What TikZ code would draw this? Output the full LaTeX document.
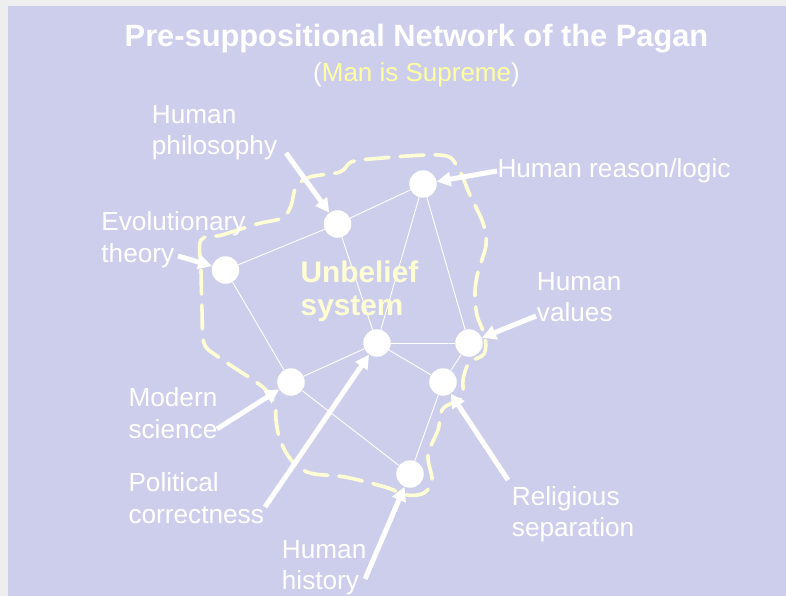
\documentclass[tikz,border=0pt]{standalone}
\usepackage{fontspec}
\setmainfont{Liberation Sans}
\usetikzlibrary{arrows.meta}
\definecolor{bgl}{RGB}{205,206,236}
\definecolor{edgeg}{RGB}{238,238,238}
\definecolor{cream}{RGB}{255,255,212}
\definecolor{subyel}{RGB}{255,255,160}
\begin{document}
\begin{tikzpicture}[x=1pt,y=-1pt,
  dot/.style={circle,fill=white,draw=none,minimum size=27.5pt,inner sep=0pt},
  link/.style={white,line width=0.9pt},
  arr/.style={white,line width=5pt,-{Triangle[length=14pt,width=14pt]}},
  lbl/.style={anchor=base west,inner sep=0pt,text=white,font=\fontsize{26.2}{31.7}\selectfont},
  core/.style={anchor=base west,inner sep=0pt,text=cream,font=\fontsize{29.8}{33}\selectfont\bfseries},
  outline/.style={cream,line width=3.6pt,dash pattern=on 24pt off 11pt,line cap=round,line join=round}]
\useasboundingbox (0,0) rectangle (786,596);
\fill[edgeg] (0,0) rectangle (786,596);
\fill[bgl] (8,6) rectangle (786,596);

% titles
\node[anchor=base,inner sep=0pt,text=white,font=\fontsize{30.8}{36}\selectfont\bfseries] (title) at (416.5,47) {Pre-suppositional Network of the Pagan};
\node[anchor=base,inner sep=0pt,text=subyel,font=\fontsize{26}{31}\selectfont] (subtitle) at (416.5,81.5) {\textcolor{white}{(}Man is Supreme\textcolor{white}{)}};

% dashed outline
\draw[outline] plot[smooth cycle,tension=0.55] coordinates {
 (201,240) (222,235) (257,224) (282,218) (291,206) (296,187) (310,177) (340,172) (351,162) (370,159)
 (440,155) (457,166) (470,195) (483,223) (486,245) (478,272) (475,292) (477,315) (485,337)
 (484,354) (469,363) (463,380) (463,397) (452,403) (442,410) (438,430) (428,455) (432,480) (424,493)
 (407,495) (385,487) (345,477) (310,473) (292,461) (280,440) (276,420) (275,405) (266,390)
 (250,378) (217,356) (204,343) (202,310) (201,270)};

% network nodes
\node[dot] (phil) at (337.5,224) {};
\node[dot] (reason) at (423,184) {};
\node[dot] (evol) at (225.5,270) {};
\node[dot] (core) at (377,343) {};
\node[dot] (values) at (469,343) {};
\node[dot] (science) at (291,382) {};
\node[dot] (relig) at (443,382) {};
\node[dot] (hist) at (410,474) {};

% links
\foreach \a/\b in {evol/phil,phil/reason,phil/core,reason/core,reason/values,evol/science,science/core,core/values,core/relig,values/relig,science/hist,relig/hist}
  \draw[link] (\a) -- (\b);

% center text
\node[core] (ub1) at (300.5,282.3) {Unbelief};
\node[core] (ub2) at (300.5,315) {system};

% labels
\node[lbl] (lphil1) at (151.7,123.3) {Human};
\node[lbl] (lphil2) at (151.7,155) {philosophy};
\node[lbl] (lreason) at (497.3,177.3) {Human reason/logic};
\node[lbl] (levol1) at (101.2,230) {Evolutionary};
\node[lbl] (levol2) at (101.2,262) {theory};
\node[lbl] (lval1) at (536.7,290) {Human};
\node[lbl] (lval2) at (536.7,321.7) {values};
\node[lbl] (lsci1) at (128.3,406) {Modern};
\node[lbl] (lsci2) at (128.3,438) {science};
\node[lbl] (lpol1) at (128.3,491.7) {Political};
\node[lbl] (lpol2) at (128.3,523.3) {correctness};
\node[lbl] (lrel1) at (511.7,505) {Religious};
\node[lbl] (lrel2) at (511.7,536.7) {separation};
\node[lbl] (lhis1) at (281.7,558.3) {Human};
\node[lbl] (lhis2) at (281.7,589.5) {history};

% arrow free ends
\coordinate (aphil) at (286,153);
\coordinate (areason) at (497,171);
\coordinate (aevol) at (178,256);
\coordinate (aval) at (536,316);
\coordinate (asci) at (217,429);
\coordinate (apol) at (265,507);
\coordinate (arel) at (508,480);
\coordinate (ahis) at (365,579);

\draw[arr] (aphil) -- (phil);
\draw[arr] (areason) -- (reason);
\draw[arr] (aevol) -- (evol);
\draw[arr] (aval) -- (values);
\draw[arr] (asci) -- (science);
\draw[arr] (apol) -- (core);
\draw[arr] (arel) -- (relig);
\draw[arr] (ahis) -- (hist);
\end{tikzpicture}
\end{document}
